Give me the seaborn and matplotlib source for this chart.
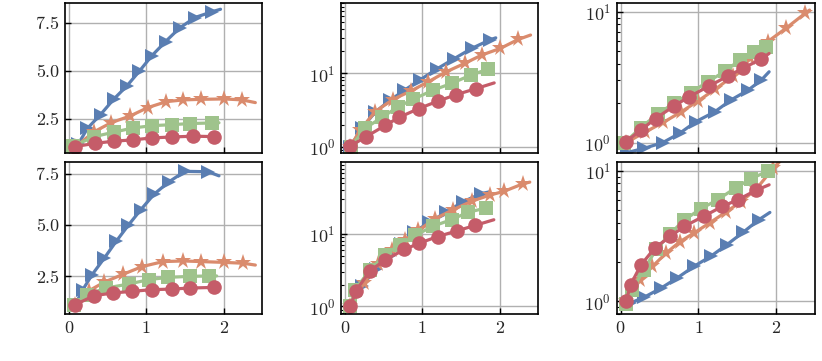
import matplotlib
matplotlib.use("Agg")
import matplotlib.pyplot as plt
import matplotlib.ticker as mticker
import seaborn as sns

# ---------------- data (last point of each series is the line end, no marker) ----
a_blue_x = [0.12, 0.24, 0.41, 0.58, 0.75, 0.91, 1.07, 1.25, 1.43, 1.63, 1.85, 1.96]
a_blue_y = [1.20, 2.03, 2.75, 3.55, 4.24, 5.00, 5.80, 6.55, 7.25, 7.80, 8.10, 8.23]
a_orange_x = [0.08, 0.33, 0.55, 0.79, 1.02, 1.26, 1.48, 1.71, 2.01, 2.24, 2.41]
a_orange_y = [1.05, 1.86, 2.33, 2.67, 3.11, 3.42, 3.51, 3.54, 3.56, 3.51, 3.37]
a_green_x = [0.05, 0.33, 0.58, 0.83, 1.08, 1.33, 1.57, 1.85, 1.94]
a_green_y = [1.10, 1.60, 1.83, 2.05, 2.17, 2.22, 2.28, 2.31, 2.32]
a_red_x = [0.08, 0.34, 0.58, 0.83, 1.07, 1.33, 1.61, 1.87, 1.90]
a_red_y = [1.08, 1.25, 1.36, 1.43, 1.53, 1.58, 1.62, 1.60, 1.60]

b_blue_x = [0.07, 0.22, 0.39, 0.58, 0.77, 0.97, 1.19, 1.41, 1.64, 1.88, 1.95]
b_blue_y = [1.0, 1.78, 2.95, 4.27, 5.89, 8.13, 11.5, 15.8, 21.9, 28.8, 30.5]
b_orange_x = [0.07, 0.20, 0.39, 0.62, 0.86, 1.08, 1.31, 1.55, 1.77, 2.01, 2.24, 2.40]
b_orange_y = [1.0, 1.7, 3.0, 4.4, 5.8, 7.7, 10.5, 13.7, 17.8, 21.9, 29.0, 33.3]
b_green_x = [0.08, 0.26, 0.48, 0.69, 0.88, 1.14, 1.38, 1.63, 1.85, 1.87]
b_green_y = [1.0, 1.78, 2.51, 3.51, 4.42, 5.9, 7.3, 9.5, 11.4, 11.5]
b_red_x = [0.07, 0.275, 0.525, 0.70, 0.955, 1.20, 1.44, 1.69, 1.93]
b_red_y = [1.02, 1.37, 1.96, 2.51, 3.31, 4.17, 5.13, 6.17, 7.41]

c_blue_x = [0.08, 0.30, 0.54, 0.76, 0.97, 1.21, 1.42, 1.64, 1.81, 1.91]
c_blue_y = [0.84, 0.905, 1.0, 1.18, 1.45, 1.72, 2.12, 2.52, 3.01, 3.48]
c_orange_x = [0.07, 0.31, 0.55, 0.78, 1.00, 1.22, 1.45, 1.67, 1.89, 2.13, 2.37, 2.43]
c_orange_y = [1.0, 1.20, 1.43, 1.72, 2.09, 2.57, 3.24, 4.4, 5.9, 7.5, 9.7, 10.3]
c_green_x = [0.05, 0.26, 0.48, 0.69, 0.90, 1.12, 1.34, 1.53, 1.72, 1.87, 1.92]
c_green_y = [1.0, 1.3, 1.67, 2.0, 2.4, 2.92, 3.5, 4.27, 4.95, 5.4, 5.6]
c_red_x = [0.07, 0.26, 0.45, 0.69, 0.88, 1.14, 1.38, 1.57, 1.80, 1.91]
c_red_y = [1.02, 1.25, 1.53, 1.91, 2.24, 2.71, 3.23, 3.69, 4.33, 4.8]

d_blue_x = [0.08, 0.18, 0.30, 0.46, 0.61, 0.77, 0.93, 1.10, 1.29, 1.50, 1.80, 1.94]
d_blue_y = [1.10, 1.85, 2.58, 3.40, 4.20, 5.00, 5.75, 6.50, 7.10, 7.62, 7.60, 7.40]
d_orange_x = [0.08, 0.26, 0.46, 0.70, 0.95, 1.22, 1.48, 1.71, 2.01, 2.25, 2.41]
d_orange_y = [1.10, 1.80, 2.22, 2.60, 2.98, 3.22, 3.25, 3.22, 3.18, 3.14, 3.05]
d_green_x = [0.07, 0.24, 0.48, 0.78, 1.03, 1.28, 1.57, 1.81, 1.91]
d_green_y = [1.12, 1.61, 1.93, 2.13, 2.34, 2.45, 2.50, 2.52, 2.52]
d_red_x = [0.08, 0.33, 0.57, 0.82, 1.07, 1.33, 1.56, 1.87, 1.90]
d_red_y = [1.12, 1.56, 1.69, 1.77, 1.85, 1.88, 1.93, 1.96, 1.96]

e_blue_x = [0.07, 0.22, 0.40, 0.57, 0.73, 0.89, 1.09, 1.31, 1.53, 1.76, 1.86]
e_blue_y = [1.0, 1.9, 3.3, 5.0, 7.2, 10.5, 14.5, 20.0, 28.0, 36.0, 38.0]
e_orange_x = [0.07, 0.25, 0.43, 0.61, 0.78, 0.95, 1.16, 1.40, 1.64, 1.87, 2.06, 2.30, 2.39]
e_orange_y = [1.0, 2.1, 3.9, 6.0, 8.3, 11.2, 16.1, 21.7, 28.3, 34.3, 38.9, 49.2, 52.0]
e_green_x = [0.07, 0.13, 0.33, 0.52, 0.71, 0.91, 1.14, 1.38, 1.59, 1.83, 1.86]
e_green_y = [1.0, 1.70, 3.21, 5.2, 7.1, 9.6, 12.8, 15.8, 19.9, 22.9, 23.2]
e_red_x = [0.07, 0.145, 0.325, 0.525, 0.77, 0.96, 1.20, 1.445, 1.68, 1.925]
e_red_y = [1.0, 1.65, 3.1, 4.4, 6.1, 7.45, 9.2, 11.0, 13.1, 15.7]

f_blue_x = [0.12, 0.30, 0.52, 0.73, 0.95, 1.16, 1.37, 1.58, 1.78, 1.92]
f_blue_y = [0.966, 1.07, 1.26, 1.51, 1.86, 2.21, 2.72, 3.39, 4.22, 4.79]
f_orange_x = [0.07, 0.25, 0.41, 0.59, 0.76, 0.95, 1.15, 1.35, 1.55, 1.75, 1.96, 2.05]
f_orange_y = [1.0, 1.45, 1.85, 2.35, 2.85, 3.35, 4.0, 4.8, 5.8, 7.3, 10.4, 11.8]
f_green_x = [0.07, 0.15, 0.30, 0.46, 0.64, 0.82, 1.03, 1.25, 1.48, 1.68, 1.89, 1.93]
f_green_y = [0.95, 1.22, 1.75, 2.5, 3.3, 4.2, 5.1, 6.0, 7.4, 8.7, 9.9, 10.3]
f_red_x = [0.07, 0.13, 0.26, 0.44, 0.64, 0.82, 1.07, 1.31, 1.51, 1.74, 1.91]
f_red_y = [1.0, 1.34, 1.89, 2.56, 3.14, 3.75, 4.48, 5.33, 6.0, 7.07, 7.8]

x_ticks = [0, 1, 2]
lin_ticks = [2.5, 5.0, 7.5]

# ---------------- style ----------------
sns.set_theme(style="ticks")
plt.rcParams.update({
    "font.family": "serif",
    "font.serif": ["cmr10"],
    "mathtext.fontset": "cm",
    "axes.formatter.use_mathtext": True,
    "axes.unicode_minus": False,
    "font.size": 13,
    "xtick.labelsize": 13,
    "ytick.labelsize": 13,
})

C_BLUE = "#5A7EB2"
C_ORANGE = "#DA8B6D"
C_GREEN = "#9FC38C"
C_RED = "#C55C69"

fig = plt.figure(figsize=(8.22, 3.61), dpi=100)
W, H = 822, 361
col_px = [(65, 197.3), (341, 197.3), (616.7, 198.3)]
row_px = [(3.3, 153.3), (162.3, 314.3)]

panels = [
    dict(s=[(a_blue_x, a_blue_y), (a_orange_x, a_orange_y), (a_green_x, a_green_y), (a_red_x, a_red_y)], log=False, ylim=(0.73, 8.54)),
    dict(s=[(b_blue_x, b_blue_y), (b_orange_x, b_orange_y), (b_green_x, b_green_y), (b_red_x, b_red_y)], log=True, ylim=(0.813, 90.2)),
    dict(s=[(c_blue_x, c_blue_y), (c_orange_x, c_orange_y), (c_green_x, c_green_y), (c_red_x, c_red_y)], log=True, ylim=(0.83, 11.6)),
    dict(s=[(d_blue_x, d_blue_y), (d_orange_x, d_orange_y), (d_green_x, d_green_y), (d_red_x, d_red_y)], log=False, ylim=(0.65, 8.06)),
    dict(s=[(e_blue_x, e_blue_y), (e_orange_x, e_orange_y), (e_green_x, e_green_y), (e_red_x, e_red_y)], log=True, ylim=(0.776, 97.7)),
    dict(s=[(f_blue_x, f_blue_y), (f_orange_x, f_orange_y), (f_green_x, f_green_y), (f_red_x, f_red_y)], log=True, ylim=(0.794, 11.6)),
]
styles = [(C_BLUE, ">", 10.5), (C_ORANGE, "*", 12.5), (C_GREEN, "s", 9.5), (C_RED, "o", 10.5)]

for i, p in enumerate(panels):
    r, c = divmod(i, 3)
    x0, w = col_px[c]
    t, b = row_px[r]
    ax = fig.add_axes([x0 / W, 1 - b / H, w / W, (b - t) / H])
    if p["log"]:
        ax.set_yscale("log")
    for (xs, ys), (col, mk, ms) in zip(p["s"], styles):
        sns.lineplot(x=xs, y=ys, ax=ax, color=col, lw=2.3, marker=mk, markersize=ms,
                     markeredgewidth=0, markevery=list(range(len(xs) - 1)),
                     estimator=None, sort=False)
    ax.set_xlim(-0.05, 2.5)
    ax.set_ylim(*p["ylim"])
    ax.set_xticks(x_ticks)
    if not p["log"]:
        ax.set_yticks(lin_ticks)
        ax.yaxis.set_major_formatter(mticker.FormatStrFormatter("%.1f"))
    else:
        ax.yaxis.set_minor_formatter(mticker.NullFormatter())
    ax.grid(True, which="major", color="#b0b0b0", lw=1.0)
    ax.set_axisbelow(True)
    ax.tick_params(which="major", direction="in", length=4.5, width=1.0, color="black",
                   top=False, right=False, pad=4)
    ax.tick_params(which="minor", direction="in", length=2.5, width=0.8, color="black",
                   top=False, right=False)
    ax.tick_params(axis="x", which="minor", bottom=False)
    if r == 0:
        ax.tick_params(labelbottom=False)
    for sp in ax.spines.values():
        sp.set_color("black")
        sp.set_linewidth(1.2)
    ax.set_xlabel("")
    ax.set_ylabel("")

fig.savefig("out.png", dpi=100)
